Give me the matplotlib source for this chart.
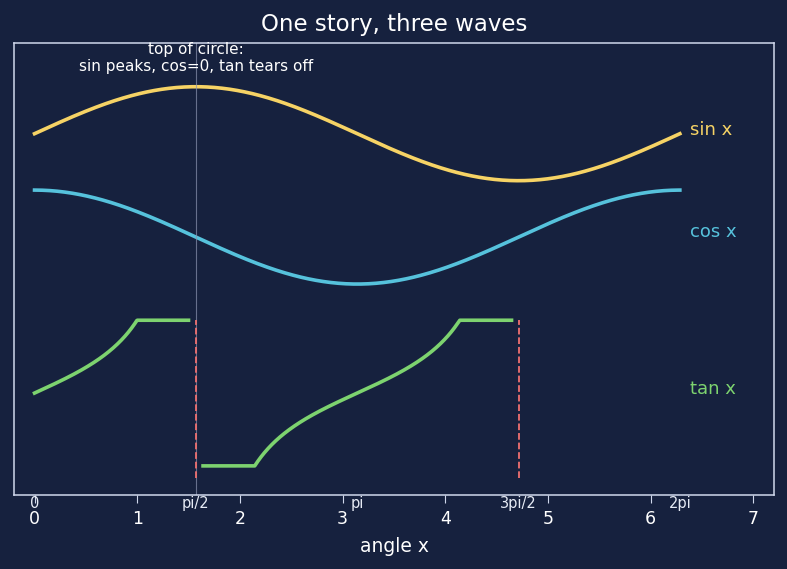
import numpy as np
import matplotlib.pyplot as plt

# offsets of the three bands, tan clip level
sin_off = 2.2
cos_off = 0.0
tan_off = -3.32
tan_clip = 1.55

x = np.linspace(0, 2 * np.pi, 600)
xt = np.linspace(0, 1.5 * np.pi, 900)

pi_pos = [0, np.pi / 2, np.pi, 3 * np.pi / 2, 2 * np.pi]
pi_labels = ["0", "pi/2", "pi", "3pi/2", "2pi"]
asymptotes = [np.pi / 2, 3 * np.pi / 2]

bg = "#16213e"
c_sin = "#f6d365"
c_cos = "#56c2dc"
c_tan = "#7dd36f"
c_red = "#f07070"
c_fg = "#d0d8ec"

fig = plt.figure(figsize=(7.87, 5.69), dpi=100, facecolor=bg)
ax = fig.add_axes([0.0178, 0.130, 0.9657, 0.7944])
ax.set_facecolor(bg)

ax.plot(x, np.sin(x) + sin_off, color=c_sin, lw=2.6)
ax.plot(x, np.cos(x) + cos_off, color=c_cos, lw=2.6)

t = np.clip(np.tan(xt), -tan_clip, tan_clip)
t[np.abs(np.cos(xt)) < 0.068] = np.nan
ax.plot(xt, t + tan_off, color=c_tan, lw=2.6)

ax.axvline(np.pi / 2, color="#8a93b0", lw=0.8, alpha=0.7)
for a in asymptotes:
    ax.plot([a, a], [tan_off - 1.81, tan_off + tan_clip], color=c_red, lw=1.3, ls="--")

ax.text(2 * np.pi + 0.1, sin_off + 0.08, "sin x", color=c_sin, fontsize=13, va="center")
ax.text(2 * np.pi + 0.1, cos_off + 0.1, "cos x", color=c_cos, fontsize=13, va="center")
ax.text(2 * np.pi + 0.1, tan_off + 0.08, "tan x", color=c_tan, fontsize=13, va="center")

ax.text(np.pi / 2, 3.81, "top of circle:\nsin peaks, cos=0, tan tears off",
        color="white", fontsize=11, ha="center", va="center", linespacing=1.1)

tr = ax.get_xaxis_transform()
for p, lab in zip(pi_pos, pi_labels):
    ax.text(p, -0.003, lab, transform=tr, color="#e6ebf5", fontsize=10.5, ha="center", va="top")

ax.set_xlim(-0.2, 7.2)
ax.set_ylim(-5.49, 4.13)
ax.set_yticks([])
ax.set_xticks(range(8))
ax.tick_params(axis="x", colors=c_fg, labelcolor="white", labelsize=12.5,
               length=6, pad=5)
for s in ax.spines.values():
    s.set_color(c_fg)
    s.set_linewidth(1.1)
ax.set_xlabel("angle x", color="white", fontsize=13.5, labelpad=6)
ax.set_title("One story, three waves", color="white", fontsize=16.5, pad=9)

fig.savefig("out.png", facecolor=bg)
